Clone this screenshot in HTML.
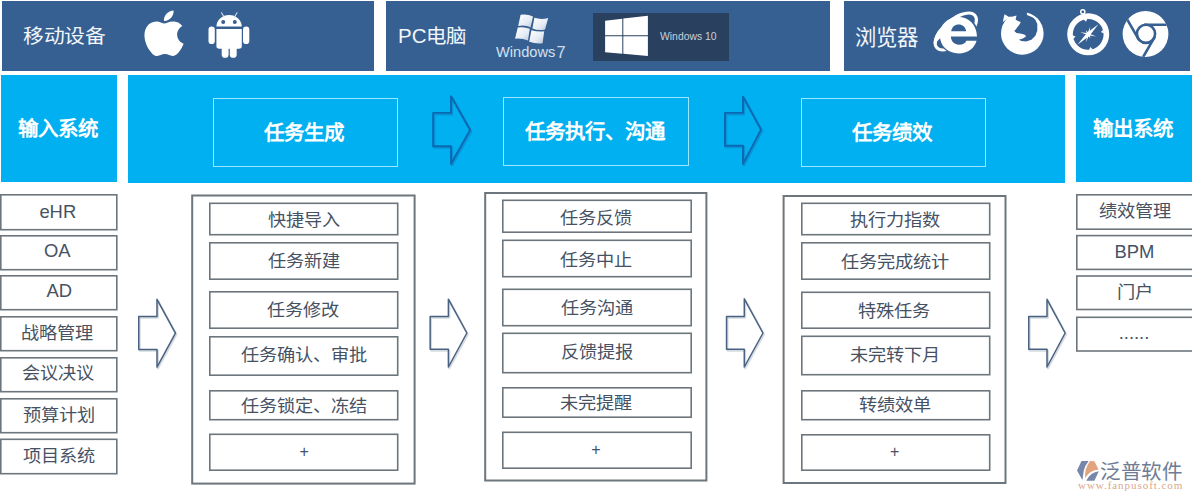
<!DOCTYPE html>
<html lang="zh-CN"><head><meta charset="utf-8">
<style>
html,body{margin:0;padding:0;background:#fff;}
body{width:1192px;height:500px;position:relative;overflow:hidden;font-family:"Liberation Sans",sans-serif;}
div{box-sizing:border-box;position:absolute;}
.db{background:#366092;}
.lb{background:#00b0f0;}
.ib{border:1.2px solid #9ce6ff;color:#fff;font-weight:bold;font-size:20.5px;display:flex;align-items:center;justify-content:center;}
.lt{color:#fff;font-weight:bold;font-size:20.5px;display:flex;align-items:center;justify-content:center;}
.ls{background:#fff;color:#465264;font-size:18.2px;display:flex;align-items:center;justify-content:center;}
.ls span{position:relative;top:1.2px;left:0;display:inline-block;transform:scaleY(0.92);line-height:1.2;}
.ls.lat{font-size:18.4px;}
.ls.lat span{top:-0.8px;transform:none;}
.ls.pl span{transform:none;top:1px;}
.ls.pl{font-size:16px;}
.ib span,.lt span{position:relative;top:-1.5px;left:-1.5px;}
.ct{background:#fff;}
.tt{color:#f2f6fb;font-size:21.2px;white-space:nowrap;line-height:1;transform:scale(0.98,0.9);transform-origin:0 50%;}
svg{position:absolute;left:0;top:0;}
</style></head><body>
<div class="db" style="left:2px;top:1px;width:372px;height:70px;"></div>
<div class="db" style="left:386px;top:1px;width:444px;height:70px;"></div>
<div class="db" style="left:844px;top:1px;width:346px;height:70px;"></div>
<div class="lb" style="left:1px;top:75px;width:116px;height:107px;"></div>
<div class="lb" style="left:128px;top:75px;width:937px;height:108px;"></div>
<div class="lb" style="left:1076px;top:75px;width:116px;height:107px;"></div>
<div class="lt" style="left:1px;top:75px;width:116px;height:107px;"><span>输入系统</span></div>
<div class="lt" style="left:1076px;top:75px;width:116px;height:107px;"><span>输出系统</span></div>
<div class="ib" style="left:213px;top:98px;width:185px;height:69px;"><span>任务生成</span></div>
<div class="ib" style="left:503px;top:97px;width:186px;height:69px;"><span>任务执行、沟通</span></div>
<div class="ib" style="left:801px;top:98px;width:185px;height:69px;"><span>任务绩效</span></div>
<div class="ls lat" style="left:0px;top:194px;width:117.6px;height:36.5px;"><span style="left:-1px;top:-0.5px">eHR</span></div>
<div class="ls lat" style="left:0px;top:235px;width:117.6px;height:35.5px;"><span style="left:-1.5px;top:-1.8px">OA</span></div>
<div class="ls lat" style="left:0px;top:275px;width:117.6px;height:35.5px;"><span style="left:0.5px;top:-1.8px">AD</span></div>
<div class="ls" style="left:0px;top:316px;width:117.6px;height:35.5px;"><span style="left:-1.5px;top:0.2px">战略管理</span></div>
<div class="ls" style="left:0px;top:357px;width:117.6px;height:35.5px;"><span style="left:-1px;top:-1.3px">会议决议</span></div>
<div class="ls" style="left:0px;top:398px;width:117.6px;height:35.5px;"><span style="left:0px;top:-0.3px">预算计划</span></div>
<div class="ls" style="left:0px;top:438.5px;width:117.6px;height:36.0px;"><span style="left:0px;top:0.2px">项目系统</span></div>
<div class="ct" style="left:191.2px;top:194.5px;width:224.40000000000003px;height:290.1px;"></div>
<div class="ls" style="left:209px;top:202.5px;width:189.5px;height:33.0px;"><span style="left:0px;top:2.2px">快捷导入</span></div>
<div class="ls" style="left:209px;top:242px;width:189.5px;height:38px;"><span style="left:0px;top:0.7px">任务新建</span></div>
<div class="ls" style="left:209px;top:291px;width:189.5px;height:38px;"><span style="left:-0.5px;top:1.2px">任务修改</span></div>
<div class="ls" style="left:209px;top:336px;width:189.5px;height:40px;"><span style="left:0px;top:0.2px">任务确认、审批</span></div>
<div class="ls" style="left:209px;top:390px;width:189.5px;height:30.5px;"><span style="left:0px;top:1.7px">任务锁定、冻结</span></div>
<div class="ls pl" style="left:209px;top:433.5px;width:189.5px;height:37.5px;"><span style="left:0.5px;top:-0.4px">+</span></div>
<div class="ct" style="left:484.2px;top:192px;width:223.2px;height:289.5px;"></div>
<div class="ls" style="left:502px;top:199.5px;width:190px;height:33.5px;"><span style="left:-1px;top:2.2px">任务反馈</span></div>
<div class="ls" style="left:502px;top:239.5px;width:190px;height:38.0px;"><span style="left:-1px;top:2.2px">任务中止</span></div>
<div class="ls" style="left:502px;top:288.5px;width:190px;height:38.0px;"><span style="left:0px;top:1.7px">任务沟通</span></div>
<div class="ls" style="left:502px;top:332.5px;width:190px;height:41.0px;"><span style="left:0px;top:0.2px">反馈提报</span></div>
<div class="ls" style="left:502px;top:387px;width:190px;height:31px;"><span style="left:-1.5px;top:1.7px">未完提醒</span></div>
<div class="ls pl" style="left:502px;top:431.5px;width:190px;height:37.5px;"><span style="left:-1px;top:-0.4px">+</span></div>
<div class="ct" style="left:782.6px;top:195px;width:223.89999999999998px;height:289px;"></div>
<div class="ls" style="left:801px;top:202.5px;width:189.5px;height:33.0px;"><span style="left:-1px;top:2.2px">执行力指数</span></div>
<div class="ls" style="left:801px;top:242px;width:189.5px;height:38px;"><span style="left:-0.5px;top:1.7px">任务完成统计</span></div>
<div class="ls" style="left:801px;top:291.5px;width:189.5px;height:37.5px;"><span style="left:-2px;top:1.7px">特殊任务</span></div>
<div class="ls" style="left:801px;top:335.5px;width:189.5px;height:40.0px;"><span style="left:-0.5px;top:0.2px">未完转下月</span></div>
<div class="ls" style="left:801px;top:390px;width:189.5px;height:30.5px;"><span style="left:-0.5px;top:0.2px">转绩效单</span></div>
<div class="ls pl" style="left:801px;top:434px;width:189.5px;height:37px;"><span style="left:-1px;top:-1.4px">+</span></div>
<div class="ls" style="left:1076px;top:194px;width:124px;height:36px;padding-right:8px;"><span style="left:0.5px;top:0.2px">绩效管理</span></div>
<div class="ls lat" style="left:1076px;top:234.8px;width:124px;height:35.39999999999998px;padding-right:8px;"><span style="left:0.5px;top:-0.8px">BPM</span></div>
<div class="ls" style="left:1076px;top:275.2px;width:124px;height:35.10000000000002px;padding-right:8px;"><span style="left:0.5px;top:-0.3px">门户</span></div>
<div class="ls lat" style="left:1076px;top:316.5px;width:124px;height:35.30000000000001px;padding-right:8px;"><span>......</span></div>
<div class="tt" style="left:23px;top:26px;">移动设备</div>
<div class="tt" style="left:398px;top:26px;font-size:20.5px;transform:scale(1,0.96);">PC电脑</div>
<div class="tt" style="left:855px;top:26.5px;font-size:21.2px;transform:scale(1.01,1.04);">浏览器</div>
<div class="" style="left:593px;top:12.5px;width:135.5px;height:48.0px;background:#29405f;"></div>
<div style="left:660px;top:31.7px;color:#c8d0da;font-size:10.4px;line-height:1;white-space:nowrap;">Windows 10</div>
<div style="left:496px;top:44.6px;color:#d3e0ee;font-size:14.2px;line-height:1;white-space:nowrap;transform:scaleX(1.03);transform-origin:0 0;">Windows</div>
<div style="left:556.5px;top:44px;color:#cfdcec;font-size:16.4px;line-height:1;white-space:nowrap;">7</div>
<svg width="1192" height="500" viewBox="0 0 1192 500">
<rect x="0.80" y="194.80" width="116.00" height="34.90" fill="none" stroke="#6c767c" stroke-width="1.6"/>
<rect x="0.80" y="235.80" width="116.00" height="33.90" fill="none" stroke="#6c767c" stroke-width="1.6"/>
<rect x="0.80" y="275.80" width="116.00" height="33.90" fill="none" stroke="#6c767c" stroke-width="1.6"/>
<rect x="0.80" y="316.80" width="116.00" height="33.90" fill="none" stroke="#6c767c" stroke-width="1.6"/>
<rect x="0.80" y="357.80" width="116.00" height="33.90" fill="none" stroke="#6c767c" stroke-width="1.6"/>
<rect x="0.80" y="398.80" width="116.00" height="33.90" fill="none" stroke="#6c767c" stroke-width="1.6"/>
<rect x="0.80" y="439.30" width="116.00" height="34.40" fill="none" stroke="#6c767c" stroke-width="1.6"/>
<rect x="192.20" y="195.50" width="222.40" height="288.10" fill="none" stroke="#6c767c" stroke-width="2.0"/>
<rect x="209.80" y="203.30" width="187.90" height="31.40" fill="none" stroke="#6c767c" stroke-width="1.6"/>
<rect x="209.80" y="242.80" width="187.90" height="36.40" fill="none" stroke="#6c767c" stroke-width="1.6"/>
<rect x="209.80" y="291.80" width="187.90" height="36.40" fill="none" stroke="#6c767c" stroke-width="1.6"/>
<rect x="209.80" y="336.80" width="187.90" height="38.40" fill="none" stroke="#6c767c" stroke-width="1.6"/>
<rect x="209.80" y="390.80" width="187.90" height="28.90" fill="none" stroke="#6c767c" stroke-width="1.6"/>
<rect x="209.80" y="434.30" width="187.90" height="35.90" fill="none" stroke="#6c767c" stroke-width="1.6"/>
<rect x="485.20" y="193.00" width="221.20" height="287.50" fill="none" stroke="#6c767c" stroke-width="2.0"/>
<rect x="502.80" y="200.30" width="188.40" height="31.90" fill="none" stroke="#6c767c" stroke-width="1.6"/>
<rect x="502.80" y="240.30" width="188.40" height="36.40" fill="none" stroke="#6c767c" stroke-width="1.6"/>
<rect x="502.80" y="289.30" width="188.40" height="36.40" fill="none" stroke="#6c767c" stroke-width="1.6"/>
<rect x="502.80" y="333.30" width="188.40" height="39.40" fill="none" stroke="#6c767c" stroke-width="1.6"/>
<rect x="502.80" y="387.80" width="188.40" height="29.40" fill="none" stroke="#6c767c" stroke-width="1.6"/>
<rect x="502.80" y="432.30" width="188.40" height="35.90" fill="none" stroke="#6c767c" stroke-width="1.6"/>
<rect x="783.60" y="196.00" width="221.90" height="287.00" fill="none" stroke="#6c767c" stroke-width="2.0"/>
<rect x="801.80" y="203.30" width="187.90" height="31.40" fill="none" stroke="#6c767c" stroke-width="1.6"/>
<rect x="801.80" y="242.80" width="187.90" height="36.40" fill="none" stroke="#6c767c" stroke-width="1.6"/>
<rect x="801.80" y="292.30" width="187.90" height="35.90" fill="none" stroke="#6c767c" stroke-width="1.6"/>
<rect x="801.80" y="336.30" width="187.90" height="38.40" fill="none" stroke="#6c767c" stroke-width="1.6"/>
<rect x="801.80" y="390.80" width="187.90" height="28.90" fill="none" stroke="#6c767c" stroke-width="1.6"/>
<rect x="801.80" y="434.80" width="187.90" height="35.40" fill="none" stroke="#6c767c" stroke-width="1.6"/>
<rect x="1076.80" y="194.80" width="122.40" height="34.40" fill="none" stroke="#6c767c" stroke-width="1.6"/>
<rect x="1076.80" y="235.60" width="122.40" height="33.80" fill="none" stroke="#6c767c" stroke-width="1.6"/>
<rect x="1076.80" y="276.00" width="122.40" height="33.50" fill="none" stroke="#6c767c" stroke-width="1.6"/>
<rect x="1076.80" y="317.30" width="122.40" height="33.70" fill="none" stroke="#6c767c" stroke-width="1.6"/>
<polygon points="433.15,112.90 451.00,112.90 451.00,96.18 470.11,130.00 451.00,163.82 451.00,146.20 433.15,146.20" fill="none" stroke="#0893d4" stroke-width="2.5" stroke-linejoin="round" transform="translate(0.9,1.3)"/>
<polygon points="433.15,112.90 451.00,112.90 451.00,96.18 470.11,130.00 451.00,163.82 451.00,146.20 433.15,146.20" fill="none" stroke="#0a69b3" stroke-width="1.9" stroke-linejoin="round"/>
<polygon points="724.95,112.90 743.00,112.90 743.00,96.58 761.01,129.60 743.00,163.82 743.00,145.80 724.95,145.80" fill="none" stroke="#0893d4" stroke-width="2.5" stroke-linejoin="round" transform="translate(0.9,1.3)"/>
<polygon points="724.95,112.90 743.00,112.90 743.00,96.58 761.01,129.60 743.00,163.82 743.00,145.80 724.95,145.80" fill="none" stroke="#0a69b3" stroke-width="1.9" stroke-linejoin="round"/>
<polygon points="138.75,316.50 157.00,316.50 157.00,299.30 175.47,333.20 157.00,367.10 157.00,349.40 138.75,349.40" fill="none" stroke="#d5dbe0" stroke-width="2.1" stroke-linejoin="round" transform="translate(0.9,1.3)"/>
<polygon points="138.75,316.50 157.00,316.50 157.00,299.30 175.47,333.20 157.00,367.10 157.00,349.40 138.75,349.40" fill="none" stroke="#4a6282" stroke-width="1.5" stroke-linejoin="round"/>
<polygon points="430.15,316.50 448.40,316.50 448.40,299.20 466.88,333.00 448.40,367.00 448.40,349.30 430.15,349.30" fill="none" stroke="#d5dbe0" stroke-width="2.1" stroke-linejoin="round" transform="translate(0.9,1.3)"/>
<polygon points="430.15,316.50 448.40,316.50 448.40,299.20 466.88,333.00 448.40,367.00 448.40,349.30 430.15,349.30" fill="none" stroke="#4a6282" stroke-width="1.5" stroke-linejoin="round"/>
<polygon points="726.55,316.50 744.30,316.50 744.30,298.80 762.98,333.00 744.30,367.00 744.30,349.30 726.55,349.30" fill="none" stroke="#d5dbe0" stroke-width="2.1" stroke-linejoin="round" transform="translate(0.9,1.3)"/>
<polygon points="726.55,316.50 744.30,316.50 744.30,298.80 762.98,333.00 744.30,367.00 744.30,349.30 726.55,349.30" fill="none" stroke="#4a6282" stroke-width="1.5" stroke-linejoin="round"/>
<polygon points="1028.75,316.50 1047.00,316.50 1047.00,299.30 1065.18,333.00 1047.00,367.00 1047.00,349.30 1028.75,349.30" fill="none" stroke="#d5dbe0" stroke-width="2.1" stroke-linejoin="round" transform="translate(0.9,1.3)"/>
<polygon points="1028.75,316.50 1047.00,316.50 1047.00,299.30 1065.18,333.00 1047.00,367.00 1047.00,349.30 1028.75,349.30" fill="none" stroke="#4a6282" stroke-width="1.5" stroke-linejoin="round"/>
<g transform="translate(140,10.4) scale(2.0,1.9)"><path fill="#fff" d="M12.152 6.896c-.948 0-2.415-1.078-3.96-1.04-2.04.027-3.91 1.183-4.961 3.014-2.117 3.675-.546 9.103 1.519 12.09 1.013 1.454 2.208 3.09 3.792 3.039 1.52-.065 2.09-.987 3.935-.987 1.831 0 2.35.987 3.96.948 1.637-.026 2.676-1.48 3.676-2.948 1.156-1.688 1.636-3.325 1.662-3.415-.039-.013-3.182-1.221-3.22-4.857-.026-3.04 2.48-4.494 2.597-4.559-1.429-2.09-3.623-2.324-4.39-2.376-2-.156-3.675 1.09-4.61 1.09zM15.53 3.83c.843-1.012 1.4-2.427 1.245-3.83-1.207.052-2.662.805-3.532 1.818-.78.896-1.454 2.338-1.273 3.714 1.338.104 2.715-.688 3.559-1.701"/></g>
<g fill="#fff">
<path d="M216.4,26.6 A12.7,11.6 0 0 1 241.8,26.6 Z"/>
<path d="M216.4,29 H241.8 V46 Q241.8,48.8 239,48.8 H219.2 Q216.4,48.8 216.4,46 Z"/>
<rect x="208.5" y="26.6" width="6.3" height="17.4" rx="3.1"/>
<rect x="243" y="26.6" width="6.3" height="17.4" rx="3.1"/>
<path d="M221.7,45 H228.6 V54.4 A3.45,3.45 0 0 1 221.7,54.4 Z"/>
<path d="M229.8,45 H236.7 V54.4 A3.45,3.45 0 0 1 229.8,54.4 Z"/>
</g>
<g stroke="#d5e2f2" stroke-width="1.1" stroke-linecap="round"><line x1="221.5" y1="12.8" x2="224" y2="17"/><line x1="237" y1="12.8" x2="234.5" y2="17"/></g>
<circle cx="223.2" cy="21.9" r="2.0" fill="#366092"/><circle cx="234.8" cy="21.9" r="2.0" fill="#366092"/>
<defs><linearGradient id="w7" x1="0" y1="0" x2="1" y2="1"><stop offset="0" stop-color="#ffffff"/><stop offset="0.6" stop-color="#e6ecf5"/><stop offset="1" stop-color="#b9c7db"/></linearGradient></defs><g fill="url(#w7)">
<path d="M520.6,14.8 Q527,13.5 533,16.6 L530.6,27.2 Q524.5,24.5 518.2,26 Z"/>
<path d="M534.4,17.8 Q541,20 548.2,18 L545,29.6 Q538.5,31 532.4,28.6 Z"/>
<path d="M517.8,27.6 Q524,26.5 529.8,28.8 L528,40.6 Q521.5,38 515,38.8 Z"/>
<path d="M531.4,30.2 Q538,32 544.2,31.2 L542.6,43.2 Q536,44 529.2,41.8 Z"/>
</g>
<g fill="#fff">
<polygon points="605.1,20.7 622.3,18.69 622.3,35.3 605.1,35.3"/>
<polygon points="623.3,18.57 647.9,15.7 647.9,35.3 623.3,35.3"/>
<polygon points="605.1,36.3 622.3,36.3 622.3,53.73 605.1,52.2"/>
<polygon points="623.3,36.3 647.9,36.3 647.9,56 623.3,53.82"/>
</g>
<ellipse cx="955.8" cy="31.5" rx="25.0" ry="11.8" transform="rotate(-40 955.8 31.5)" fill="none" stroke="#fff" stroke-width="3.2"/>
<ellipse cx="958.4" cy="35.2" rx="20.2" ry="19.6" fill="#366092"/>
<path fill="#fff" stroke="#fff" stroke-width="3.2" d="M935.21,43.51 A25.0,11.8 -40 0 1 962.30,14.25"/>
<path fill="#fff" fill-rule="evenodd" d="M958.2,17 C968.7,17 976.7,24.5 977,36.6 L950.8,36.6 C951.2,41.4 954.2,44.8 959.2,44.8 C962.7,44.8 965.2,43.2 966.4,40.7 L976.6,40.7 C974.4,48.7 967.4,53.4 958.8,53.4 C947.8,53.4 939.8,45.8 939.8,35.2 C939.8,24.8 947.8,17 958.2,17 Z M951.2,31.2 L966.2,31.2 C965.6,26.8 962.5,24.4 958.7,24.4 C954.8,24.4 951.8,26.8 951.2,31.2 Z"/>
<circle cx="1022.3" cy="33.4" r="21.3" fill="#fff"/>
<polygon fill="#366092" points="1005.5,8 1008.5,16.4 1011.5,16.8 1014,16.3 1016.5,15.4 1016.2,17.0 1015.6,19.6 1017.9,20.9 1020.8,21.9 1019.2,24.9 1017.5,26.9 1015.9,29.2 1014.2,31.1 1016.6,33.1 1021.5,33.8 1024.8,34.8 1026.1,36.4 1022.8,38.4 1018.9,39.7 1021.5,41.0 1026.1,41.4 1031.4,39.7 1035.4,35.8 1037.3,30.5 1037.3,23.9 1035.4,19.8 1033,17.6 1030,16.2 1027,15 1026.5,8"/>
<polygon fill="#fff" points="1002.8,22 1004.5,14.3 1009.5,17.2"/>
<circle cx="1088.2" cy="34.3" r="18.2" fill="none" stroke="#fff" stroke-width="5.6"/>
<circle cx="1082.8" cy="11.8" r="2.1" fill="none" stroke="#fff" stroke-width="1.4"/>
<polygon fill="#fff" points="1083.58,19.19 1085.98,21.69 1087.37,18.52"/><polygon fill="#fff" points="1103.31,29.68 1100.81,32.08 1103.98,33.47"/><polygon fill="#fff" points="1092.82,49.41 1090.42,46.91 1089.03,50.08"/><polygon fill="#fff" points="1073.09,38.92 1075.59,36.52 1072.42,35.13"/>
<polygon fill="#fff" points="1090.32,26.38 1089.42,32.71 1092.18,32.00 1090.18,34.04 1096.12,36.42 1089.79,35.52 1090.50,38.28 1088.46,36.28 1086.08,42.22 1086.98,35.89 1084.22,36.60 1086.22,34.56 1080.28,32.18 1086.61,33.08 1085.90,30.32 1087.94,32.32"/>
<polygon fill="#fff" points="1077.40,44.80 1089.53,35.66 1098.40,24.30 1086.87,32.94"/>
<defs><clipPath id="chc"><circle cx="1145.5" cy="34" r="22.9"/></clipPath></defs>
<circle cx="1145.5" cy="34" r="22.9" fill="#fff"/>
<circle cx="1146.0" cy="33.8" r="9.1" fill="none" stroke="#366092" stroke-width="2.6"/>
<g stroke="#366092" stroke-width="2.6" clip-path="url(#chc)"><line x1="1144.00" y1="24.70" x2="1170.00" y2="24.70"/><line x1="1139.12" y1="40.08" x2="1126.12" y2="17.57"/><line x1="1154.88" y1="36.62" x2="1141.88" y2="59.13"/></g>
<g>
<path fill="#7787aa" d="M1077,470.6 L1081.5,461 L1088.6,461 Q1085,465.5 1083.8,470.5 Q1083,475 1082.6,479.6 L1082.1,479.5 Z"/>
<path fill="#e2a47e" d="M1090.2,461.1 L1094.4,461.3 L1098.6,469.6 Q1093.5,470.2 1090,472.4 Q1087,474.8 1085.2,478 Q1084.8,474 1085.6,470 Q1087,465 1090.2,461.1 Z"/>
<path fill="#7787aa" d="M1086.2,480.7 Q1088.5,476.3 1091.5,473.9 Q1094.8,471.8 1098.8,471.2 L1094.4,480.7 Z"/>
</g>
</svg>
<div style="left:1100px;top:459.8px;color:#6e7d95;font-size:20.5px;font-weight:500;line-height:1.15;white-space:nowrap;letter-spacing:0.5px;">泛普软件</div>
<div style="left:1078px;top:480.4px;color:#d9a88c;font-family:'Liberation Serif',serif;font-size:11px;line-height:1;white-space:nowrap;letter-spacing:0.95px;">www.fanpusoft.com</div>
</body></html>
